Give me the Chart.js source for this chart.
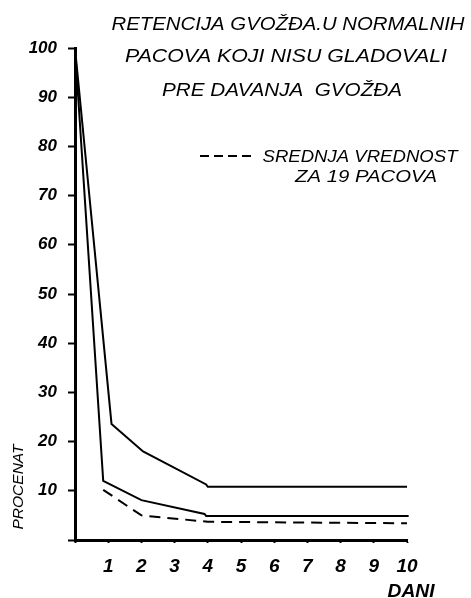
<!DOCTYPE html>
<html>
<head>
<meta charset="utf-8">
<script src="https://cdn.jsdelivr.net/npm/chart.js@4.4.1/dist/chart.umd.min.js"></script>
<style>
  html, body { margin: 0; padding: 0; background: #fff; }
  canvas { display: block; }
</style>
</head>
<body>
<canvas id="plot-retencija" width="471" height="598"></canvas>
<script>
// hand-lettered captions
const titleLines = ["RETENCIJA GVOŽĐA.U NORMALNIH", "PACOVA KOJI NISU GLADOVALI", "PRE DAVANJA  GVOŽĐA"];
const legendLines = ["SREDNJA VREDNOST", "ZA 19 PACOVA"];
const xTitle = "DANI";
const yTitle = "PROCENAT";

// upper bound of the group (percent retained vs. day)
const upperDays = [0, 1.1, 2.05, 3.95, 4, 10];
const upperPct = [100, 23.6, 18, 11.3, 10.8, 10.8];

// lower bound of the group
const lowerDays = [0, 0.85, 2, 3.9, 3.95, 10.05];
const lowerPct = [100, 12, 8.1, 5.3, 4.9, 4.9];

// mean of 19 rats (dashed)
const meanDays = [0.85, 2, 4, 10];
const meanPct = [10.2, 5, 3.7, 3.4];

const toPoints = (days, pct) => days.map((d, i) => ({ x: d, y: pct[i] }));

function fitText(ctx, text, cx, baseline, width, font) {
  ctx.save();
  ctx.font = font;
  const w = ctx.measureText(text).width;
  ctx.translate(cx, baseline);
  ctx.scale(width / w, 1);
  ctx.textAlign = "center";
  ctx.textBaseline = "alphabetic";
  ctx.fillText(text, 0, 0);
  ctx.restore();
}

const lettering = {
  id: "lettering",
  afterDraw(chart) {
    const ctx = chart.ctx;
    ctx.save();
    ctx.fillStyle = "#000";
    const tf = 'italic 18px "Liberation Sans"';
    fitText(ctx, titleLines[0], 288, 30, 353, tf);
    fitText(ctx, titleLines[1], 286, 62, 322, tf);
    fitText(ctx, titleLines[2], 282, 96, 240, tf);

    // legend sample
    ctx.strokeStyle = "#000";
    ctx.lineWidth = 2;
    ctx.setLineDash([9, 5]);
    ctx.beginPath();
    ctx.moveTo(200, 156);
    ctx.lineTo(254, 156);
    ctx.stroke();
    ctx.setLineDash([]);
    const lf = 'italic 17px "Liberation Sans"';
    fitText(ctx, legendLines[0], 360, 162, 195, lf);
    fitText(ctx, legendLines[1], 366, 182, 142, lf);

    // axis names
    fitText(ctx, xTitle, 411, 597, 47, 'italic bold 18px "Liberation Sans"');
    ctx.save();
    ctx.translate(23, 487);
    ctx.rotate(-Math.PI / 2);
    fitText(ctx, yTitle, 0, 0, 85, 'italic 14px "Liberation Sans"');
    ctx.restore();
    ctx.restore();
  },
};

function makeChart() {
  const canvas = document.getElementById("plot-retencija");
  const line = { borderColor: "#000", borderWidth: 2, pointRadius: 0, tension: 0, clip: false };
  new Chart(canvas, {
    type: "line",
    data: {
      datasets: [
        { label: "max", data: toPoints(upperDays, upperPct), ...line },
        { label: "min", data: toPoints(lowerDays, lowerPct), ...line },
        { label: "Srednja vrednost", data: toPoints(meanDays, meanPct), ...line, borderDash: [11, 7] },
      ],
    },
    options: {
      responsive: false,
      animation: false,
      layout: { padding: { top: 48, right: 64, left: 0, bottom: 0 } },
      plugins: { legend: { display: false }, title: { display: false }, tooltip: { enabled: false } },
      scales: {
        x: {
          type: "linear",
          min: 0,
          max: 10,
          afterFit: (scale) => { scale.height = 58; },
          border: { display: true, color: "#000", width: 3 },
          grid: { drawOnChartArea: false, drawTicks: true, tickLength: 3, tickWidth: 2, tickColor: "#000" },
          ticks: {
            stepSize: 1,
            color: "#000",
            padding: 12,
            maxRotation: 0,
            font: { family: "Liberation Sans", size: 19, style: "italic", weight: "bold" },
            callback: (v) => (v === 0 ? "" : v),
          },
        },
        y: {
          min: 0,
          max: 100,
          afterFit: (scale) => { scale.width = 75; },
          border: { display: true, color: "#000", width: 3 },
          grid: { drawOnChartArea: false, drawTicks: true, tickLength: 7, tickWidth: 2, tickColor: "#000" },
          ticks: {
            stepSize: 10,
            color: "#000",
            padding: 11,
            font: { family: "Liberation Sans", size: 17, style: "italic", weight: "bold" },
            callback: (v) => (v === 0 ? "" : v),
          },
        },
      },
    },
    plugins: [lettering],
  });
}

makeChart();
</script>
</body>
</html>
